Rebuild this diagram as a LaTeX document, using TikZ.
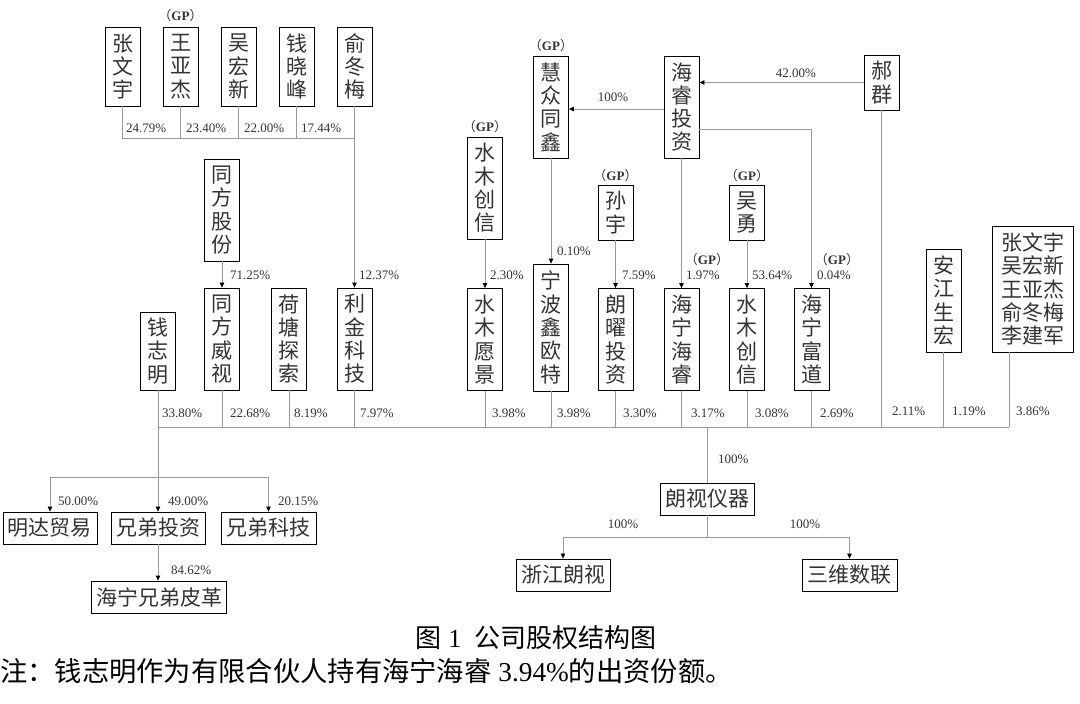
\documentclass[tikz,border=0pt]{standalone}
\usepackage{fontspec}
\setmainfont{Liberation Serif}
\newfontfamily\cjk{Noto Sans CJK SC}
\usetikzlibrary{arrows.meta}
\colorlet{linegray}{black!40}
\colorlet{textgray}{black!80}
\newcommand{\gptag}{{\cjk （}\textbf{GP}{\cjk ）}}

\begin{document}
\begin{tikzpicture}[x=1pt, y=-1pt, >={Triangle[width=4.5pt,length=5pt,color=black]},
    vbox/.style={draw=black, line width=0.8pt, text=textgray, font=\cjk\fontsize{21}{23.3}\selectfont, align=center, inner sep=0pt, minimum width=35pt},
    hbox/.style={draw=black, line width=0.8pt, text=textgray, font=\cjk\fontsize{21}{23.3}\selectfont, inner sep=0pt, minimum height=32pt},
    pct/.style={anchor=west, inner sep=0pt, text=textgray, font=\fontsize{13}{15}\selectfont},
    gp/.style={inner sep=0pt, text=textgray, font=\fontsize{13}{15}\selectfont},
    ln/.style={draw=linegray, line width=0.8pt}]
  \useasboundingbox (0,0) rectangle (1080,704);

  % top row of holders
  \node[vbox, minimum height=79pt] (zwy) at (122.5,66.5) {张\\文\\宇};
  \node[vbox, minimum height=79pt] (wyj) at (180.5,66.5) {王\\亚\\杰};
  \node[vbox, minimum height=79pt] (whx) at (238.5,66.5) {吴\\宏\\新};
  \node[vbox, minimum height=79pt] (qxf) at (296.5,66.5) {钱\\晓\\峰};
  \node[vbox, minimum height=79pt] (ydm) at (354.5,66.5) {俞\\冬\\梅};
  \node[gp] (gpwyj) at (180.5,16) {\gptag};

  \node[vbox, minimum height=102pt] (tfgf) at (222,210) {同\\方\\股\\份};
  \node[vbox, minimum height=102pt] (hzt) at (551,107) {慧\\众\\同\\鑫};
  \node[vbox, minimum height=102pt] (hrtz) at (681.5,107) {海\\睿\\投\\资};
  \node[vbox, minimum height=55pt] (hq) at (881.5,82.5) {郝\\群};
  \node[vbox, minimum height=102pt] (smcxa) at (485,188) {水\\木\\创\\信};
  \node[vbox, minimum height=55pt] (sy) at (615.5,212.5) {孙\\宇};
  \node[vbox, minimum height=55pt] (wyong) at (747,212.5) {吴\\勇};
  \node[gp] (gphzt) at (551,46) {\gptag};
  \node[gp] (gpsmcx) at (485,127) {\gptag};
  \node[gp] (gpsy) at (615.5,176) {\gptag};
  \node[gp] (gpwyong) at (747,176) {\gptag};

  % shareholders of the company
  \node[vbox, minimum height=78pt] (qzm) at (158,351) {钱\\志\\明};
  \node[vbox, minimum height=102pt] (tfws) at (222,339) {同\\方\\威\\视};
  \node[vbox, minimum height=102pt] (htts) at (289,339) {荷\\塘\\探\\索};
  \node[vbox, minimum height=102pt] (ljkj) at (354.5,339) {利\\金\\科\\技};
  \node[vbox, minimum height=102pt] (smyj) at (485,339.5) {水\\木\\愿\\景};
  \node[vbox, minimum height=127pt] (nbxot) at (551,327.5) {宁\\波\\鑫\\欧\\特};
  \node[vbox, minimum height=102pt] (lytz) at (615.5,339.5) {朗\\曜\\投\\资};
  \node[vbox, minimum height=102pt] (nhhr) at (681.5,339.5) {海\\宁\\海\\睿};
  \node[vbox, minimum height=102pt] (smcxb) at (747,339.5) {水\\木\\创\\信};
  \node[vbox, minimum height=102pt] (nhfd) at (811.5,339.5) {海\\宁\\富\\道};
  \node[vbox, minimum height=103pt] (ajsh) at (943.5,300.5) {安\\江\\生\\宏};
  \node[vbox, minimum width=81pt, minimum height=126pt] (wm) at (1032.5,289) {张文宇\\吴宏新\\王亚杰\\俞冬梅\\李建军};
  \node[gp] (gpnhhr) at (707,260) {\gptag};
  \node[gp] (gpnhfd) at (837,260) {\gptag};

  % subsidiaries
  \node[hbox, minimum width=94pt] (lsyq) at (707,499) {朗视仪器};
  \node[hbox, minimum width=94pt] (zjls) at (563,575) {浙江朗视};
  \node[hbox, minimum width=95pt] (swsl) at (849.5,575) {三维数联};
  \node[hbox, minimum width=94pt] (mdmy) at (50,528) {明达贸易};
  \node[hbox, minimum width=94pt] (xdtz) at (158,528) {兄弟投资};
  \node[hbox, minimum width=95pt] (xdkj) at (268.5,528) {兄弟科技};
  \node[hbox, minimum width=135pt] (nxdpg) at (159,597) {海宁兄弟皮革};

  % top holders to 利金科技
  \coordinate (tbus) at (354.5,138);
  \draw[ln] (zwy.south) -- (zwy.south |- tbus) -- (tbus);
  \foreach \n in {wyj,whx,qxf} { \draw[ln] (\n.south) -- (\n.south |- tbus); }
  \draw[ln, ->] (ydm.south) -- (ljkj.north);
  \node[pct] (pzwy) at (126,128) {24.79\%};
  \node[pct] (pwyj) at (186,128) {23.40\%};
  \node[pct] (pwhx) at (244,128) {22.00\%};
  \node[pct] (pqxf) at (301,128) {17.44\%};
  \node[pct] (pydm) at (359,275) {12.37\%};

  % upper links
  \draw[ln, ->] (tfgf.south) -- (tfws.north);
  \draw[ln, ->] (smcxa.south) -- (smyj.north);
  \draw[ln, ->] (hzt.south) -- (nbxot.north);
  \draw[ln, ->] (sy.south) -- (lytz.north);
  \draw[ln, ->] (hrtz.south) -- (nhhr.north);
  \draw[ln, ->] (wyong.south) -- (smcxb.north);
  \draw[ln, ->] ([yshift=-22pt]hrtz.east) -| (nhfd.north);
  \draw[ln, ->] (hq.west) -- (hq.west -| hrtz.east);
  \draw[ln, ->] ([yshift=-2pt]hrtz.west) -- ([yshift=-2pt]hrtz.west -| hzt.east);
  \node[pct] (ptfgf) at (230,275) {71.25\%};
  \node[pct] (psmcxa) at (490,275) {2.30\%};
  \node[pct] (phzt) at (557,251) {0.10\%};
  \node[pct] (psy) at (622,275) {7.59\%};
  \node[pct] (phrtz) at (686,275) {1.97\%};
  \node[pct] (pwyong) at (752,275) {53.64\%};
  \node[pct] (pfd) at (817,275) {0.04\%};
  \node[pct, anchor=center] (phq) at (796,73) {42.00\%};
  \node[pct, anchor=center] (phz) at (613,97) {100\%};

  % common bus to 朗视仪器
  \coordinate (busL) at (158,427);
  \coordinate (busR) at (1009,427);
  \coordinate (xbus) at (158,477);
  \draw[ln] (busL) -- (busR);
  \foreach \n in {tfws,htts,ljkj,smyj,nbxot,lytz,nhhr,smcxb,nhfd,hq,ajsh} { \draw[ln] (\n.south) -- (\n.south |- busL); }
  \draw[ln] (wm.south -| busR) -- (busR);
  \draw[ln] (qzm.south) -- (xbus);
  \foreach \x/\y/\t [count=\i] in {162/413/33.80, 230/413/22.68, 294/413/8.19, 360/413/7.97, 492/413/3.98, 557/413/3.98, 623/413/3.30, 691/413/3.17, 755/413/3.08, 820/413/2.69, 892/411/2.11, 952/411/1.19, 1016/411/3.86}
    { \node[pct] (pb\i) at (\x,\y) {\t\%}; }

  % 朗视仪器 and its subsidiaries
  \draw[ln] (lsyq.north |- busL) -- (lsyq.north);
  \coordinate (lsplit) at (707,537);
  \draw[ln] (lsyq.south) -- (lsplit);
  \draw[ln, ->] (lsplit) -| (zjls.north);
  \draw[ln, ->] (lsplit) -| (swsl.north);
  \node[pct] (plsyq) at (718,459) {100\%};
  \node[pct, anchor=center] (pzjls) at (623,524) {100\%};
  \node[pct, anchor=center] (pswsl) at (805,524) {100\%};

  % 钱志明 holdings
  \draw[ln, ->] (xbus) -| (mdmy.north);
  \draw[ln, ->] (xbus) -- (xdtz.north);
  \draw[ln, ->] (xbus) -| (xdkj.north);
  \draw[ln, ->] (xdtz.south) -- (xdtz.south |- nxdpg.north);
  \node[pct] (pmdmy) at (58,501) {50.00\%};
  \node[pct] (pxdtz) at (168,501) {49.00\%};
  \node[pct] (pxdkj) at (278,501) {20.15\%};
  \node[pct] (pnxd) at (171,570) {84.62\%};

  % caption and note
  \node[inner sep=0pt, font=\fontsize{26}{30}\selectfont] (cap) at (536,638) {{\cjk 图}\ 1\ \ {\cjk 公司股权结构图}};
  \node[anchor=west, inner sep=0pt, font=\fontsize{27.3}{30}\selectfont] (note) at (0,671) {{\cjk 注：钱志明作为有限合伙人持有海宁海睿}\ 3.94\%{\cjk 的出资份额。}};
\end{tikzpicture}
\end{document}
